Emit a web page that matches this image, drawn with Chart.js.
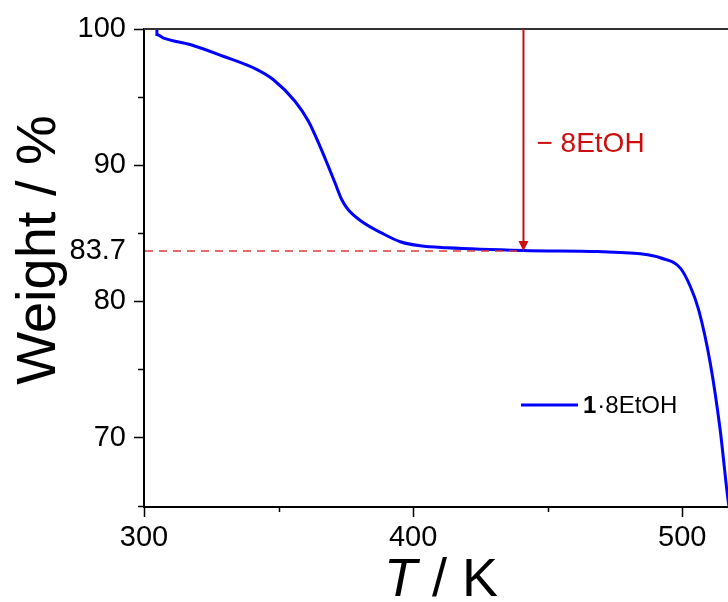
<!DOCTYPE html>
<html>
<head>
<meta charset="utf-8">
<script src="https://cdn.jsdelivr.net/npm/chart.js@4"></script>
<style>
  html, body { margin: 0; padding: 0; background: #fff; }
  #wrap { width: 728px; height: 602px; }
</style>
</head>
<body>
<div id="wrap"><canvas id="tgaChart"></canvas></div>
<script>
  // TGA curve
  const temps = [304.8, 304.8, 307.1, 317.1, 329.4, 342.0, 348.0, 356.1, 361.1, 365.4, 368.5,
    371.0, 373.5, 375.9, 380.9, 388.4, 395.2, 402.6, 412.6, 440.9, 468.4, 476.9, 484.4,
    491.8, 499.3, 503.0, 506.1, 510.4, 514.1, 516.7, 517.5];
  const weights = [100.0, 99.6, 99.35, 98.86, 98.0, 97.02, 96.29, 94.69, 93.22, 91.38, 89.91,
    88.69, 87.46, 86.73, 85.87, 85.01, 84.38, 84.08, 83.94, 83.74, 83.66, 83.59, 83.49,
    83.2, 82.44, 81.09, 79.38, 75.48, 70.55, 65.92, 64.7];

  const xTicks = [300, 350, 400, 450, 500];
  const xLabels = [300, 400, 500];
  const yTicks = [65, 70, 75, 80, 83.7, 85, 90, 95, 100];
  const yLabels = [70, 80, 83.7, 90, 100];
  const yMarks = [70, 80, 90, 100];

  const plateau = 83.7;
  const arrowT = 441;
  const lossLabel = "\u2212 8EtOH";

  const FONT = "'Liberation Sans', Arial, sans-serif";
  const RED = "#cc0e0e";

  const extras = {
    id: "extras",
    afterDatasetsDraw(chart) {
      const { ctx, chartArea: a, scales: { x, y } } = chart;
      ctx.save();
      // top frame line
      ctx.strokeStyle = "#333";
      ctx.lineWidth = 2;
      ctx.beginPath();
      ctx.moveTo(a.left, a.top);
      ctx.lineTo(a.right, a.top);
      ctx.stroke();

      // minor ticks
      ctx.strokeStyle = "#000";
      ctx.lineWidth = 1.5;
      xTicks.filter(t => !xLabels.includes(t)).forEach(t => {
        const px = Math.round(x.getPixelForValue(t)) + 0.5;
        ctx.beginPath();
        ctx.moveTo(px, a.bottom);
        ctx.lineTo(px, a.bottom + 5);
        ctx.stroke();
      });
      [65, 75, 85, 95].forEach(t => {
        const py = Math.round(y.getPixelForValue(t)) + 0.5;
        ctx.beginPath();
        ctx.moveTo(a.left, py);
        ctx.lineTo(a.left - 6, py);
        ctx.stroke();
      });

      // dashed plateau line
      const yp = y.getPixelForValue(plateau);
      const xa = x.getPixelForValue(arrowT);
      ctx.strokeStyle = "#dd3a3a";
      ctx.lineWidth = 1.5;
      ctx.setLineDash([8, 6]);
      ctx.beginPath();
      ctx.moveTo(a.left + 1, yp);
      ctx.lineTo(xa, yp);
      ctx.stroke();
      ctx.setLineDash([]);

      // arrow
      ctx.strokeStyle = RED;
      ctx.fillStyle = RED;
      ctx.lineWidth = 2;
      ctx.beginPath();
      ctx.moveTo(xa, y.getPixelForValue(100));
      ctx.lineTo(xa, yp - 6);
      ctx.stroke();
      ctx.beginPath();
      ctx.moveTo(xa - 5, yp - 10);
      ctx.lineTo(xa + 5, yp - 10);
      ctx.lineTo(xa, yp);
      ctx.closePath();
      ctx.fill();

      ctx.font = "28px " + FONT;
      ctx.textBaseline = "alphabetic";
      ctx.textAlign = "left";
      ctx.fillText(lossLabel, xa + 13, 152);

      // legend
      const ly = 405;
      ctx.strokeStyle = "#0000ff";
      ctx.lineWidth = 3;
      ctx.beginPath();
      ctx.moveTo(521, ly);
      ctx.lineTo(578, ly);
      ctx.stroke();
      ctx.fillStyle = "#000";
      ctx.font = "bold 24px " + FONT;
      ctx.fillText("1", 583, ly + 8);
      const w1 = ctx.measureText("1").width;
      ctx.font = "24px " + FONT;
      ctx.fillText("\u00b78EtOH", 583 + w1 + 1, ly + 8);

      // x title with italic T
      const ty = 596;
      ctx.font = "italic 54px " + FONT;
      const wT = ctx.measureText("T").width;
      ctx.font = "54px " + FONT;
      const rest = " / K";
      const wR = ctx.measureText(rest).width;
      const sx = 441 - (wT + wR) / 2;
      ctx.font = "italic 54px " + FONT;
      ctx.fillText("T", sx, ty);
      ctx.font = "54px " + FONT;
      ctx.fillText(rest, sx + wT, ty);

      // y title
      ctx.translate(55, 250);
      ctx.rotate(-Math.PI / 2);
      ctx.textAlign = "center";
      ctx.font = "56px " + FONT;
      ctx.fillText("Weight / %", 0, 0);
      ctx.restore();
    }
  };

  new Chart(document.getElementById("tgaChart"), {
    type: "line",
    data: {
      datasets: [{
        label: "1\u00b78EtOH",
        data: temps.map((t, i) => ({ x: t, y: weights[i] })),
        borderColor: "#0000ff",
        borderWidth: 3,
        pointRadius: 0,
        cubicInterpolationMode: "monotone",
        fill: false
      }]
    },
    options: {
      responsive: true,
      maintainAspectRatio: false,
      animation: false,
      layout: { padding: { top: 29, right: 0, left: 0, bottom: 0 } },
      plugins: {
        legend: { display: false },
        tooltip: { enabled: false }
      },
      scales: {
        x: {
          type: "linear",
          min: 300,
          max: 517,
          afterBuildTicks: s => { s.ticks = xTicks.map(v => ({ value: v })); },
          afterFit: s => { s.height = 95; },
          border: { color: "#000", width: 2 },
          grid: {
            drawOnChartArea: false,
            tickLength: 10,
            tickWidth: 1.5,
            tickColor: c => (c.tick && xLabels.includes(c.tick.value)) ? "#000" : "transparent"
          },
          ticks: {
            color: "#000",
            padding: 4,
            maxRotation: 0,
            autoSkip: false,
            font: { family: FONT, size: 29 },
            callback: v => xLabels.includes(v) ? String(v) : ""
          }
        },
        y: {
          type: "linear",
          min: 64.9,
          max: 100,
          afterBuildTicks: s => { s.ticks = yTicks.map(v => ({ value: v })); },
          afterFit: s => { s.width = 144; },
          border: { color: "#000", width: 2 },
          grid: {
            drawOnChartArea: false,
            tickLength: 10,
            tickWidth: 1.5,
            tickColor: c => (c.tick && yMarks.includes(c.tick.value)) ? "#000" : "transparent"
          },
          ticks: {
            color: "#000",
            padding: 8,
            autoSkip: false,
            font: { family: FONT, size: 29 },
            callback: v => yLabels.includes(v) ? String(v) : ""
          }
        }
      }
    },
    plugins: [extras]
  });
</script>
</body>
</html>
